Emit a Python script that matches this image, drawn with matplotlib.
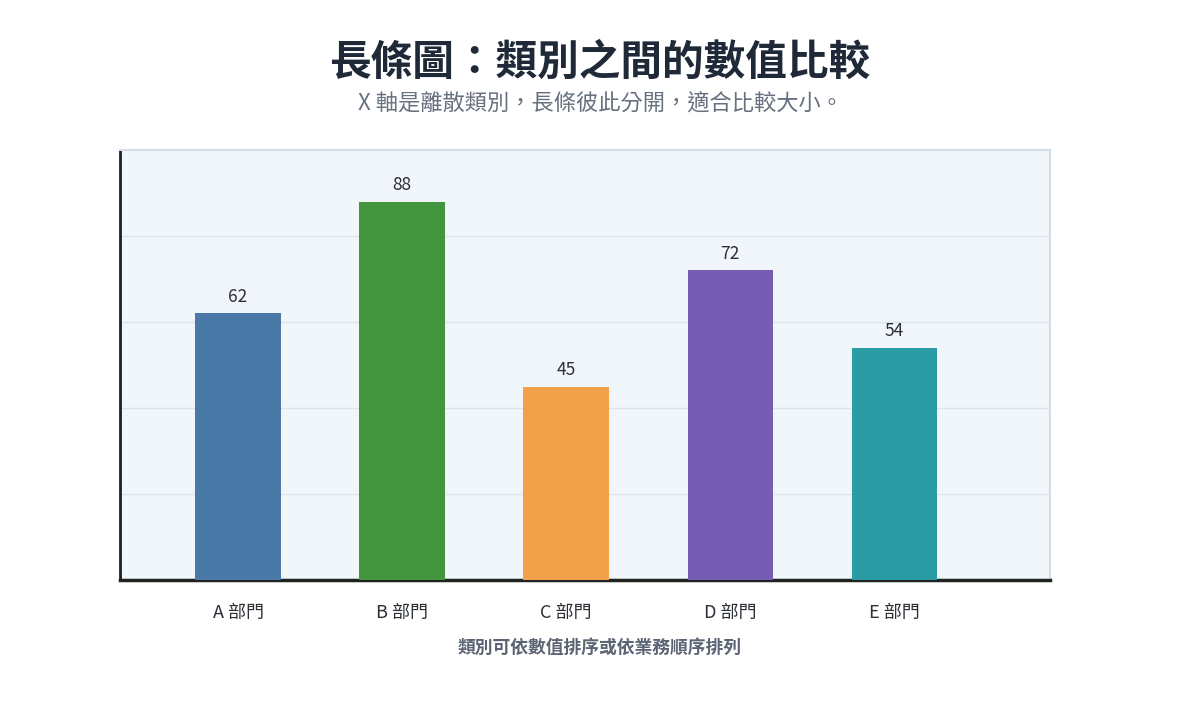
import matplotlib.pyplot as plt

plt.rcParams['font.family'] = ['Noto Sans CJK TC', 'DejaVu Sans']

# data
categories = ['A 部門', 'B 部門', 'C 部門', 'D 部門', 'E 部門']
values = [62, 88, 45, 72, 54]
colors = ['#4a79a8', '#43963e', '#f2a04a', '#775cb4', '#2a9ca5']

fig = plt.figure(figsize=(12, 7.2), dpi=100)
ax = fig.add_axes([0.1, 0.1944, 0.775, 0.5973])
ax.set_facecolor('#f1f6fb')

x = range(len(categories))
bars = ax.bar(x, values, width=0.52, color=colors, zorder=3)
for b, v in zip(bars, values):
    ax.text(b.get_x() + b.get_width() / 2, v + 1.8, str(v), ha='center', va='bottom',
            fontsize=12.5, color='#2b2f36', zorder=4)

ax.set_xlim(-0.72, 4.95)
ax.set_ylim(0, 100)
ax.set_yticks([20, 40, 60, 80])
ax.set_yticklabels([])
ax.tick_params(axis='y', length=0)
ax.tick_params(axis='x', length=0, pad=17, labelsize=13, labelcolor='#2b2f36')
ax.set_xticks(list(x))
ax.set_xticklabels(categories)
ax.grid(axis='y', color='#dce3ec', linewidth=1, zorder=0)

for s in ['top', 'right']:
    ax.spines[s].set_color('#d5dde8')
    ax.spines[s].set_linewidth(1.5)
ax.spines['left'].set_color('#1e2320')
ax.spines['left'].set_linewidth(2)
ax.spines['bottom'].set_color('#1e2320')
ax.spines['bottom'].set_linewidth(2.5)

fig.text(0.5, 0.912, '長條圖：類別之間的數值比較', ha='center', va='center',
         fontsize=30, fontweight='bold', color='#1f2937')
fig.text(0.5, 0.857, 'X 軸是離散類別，長條彼此分開，適合比較大小。', ha='center', va='center',
         fontsize=16, color='#66707e')
fig.text(0.5, 0.1, '類別可依數值排序或依業務順序排列', ha='center', va='center',
         fontsize=12.8, fontweight='bold', color='#5b6472')

fig.savefig('out.png', dpi=100, facecolor='white')
